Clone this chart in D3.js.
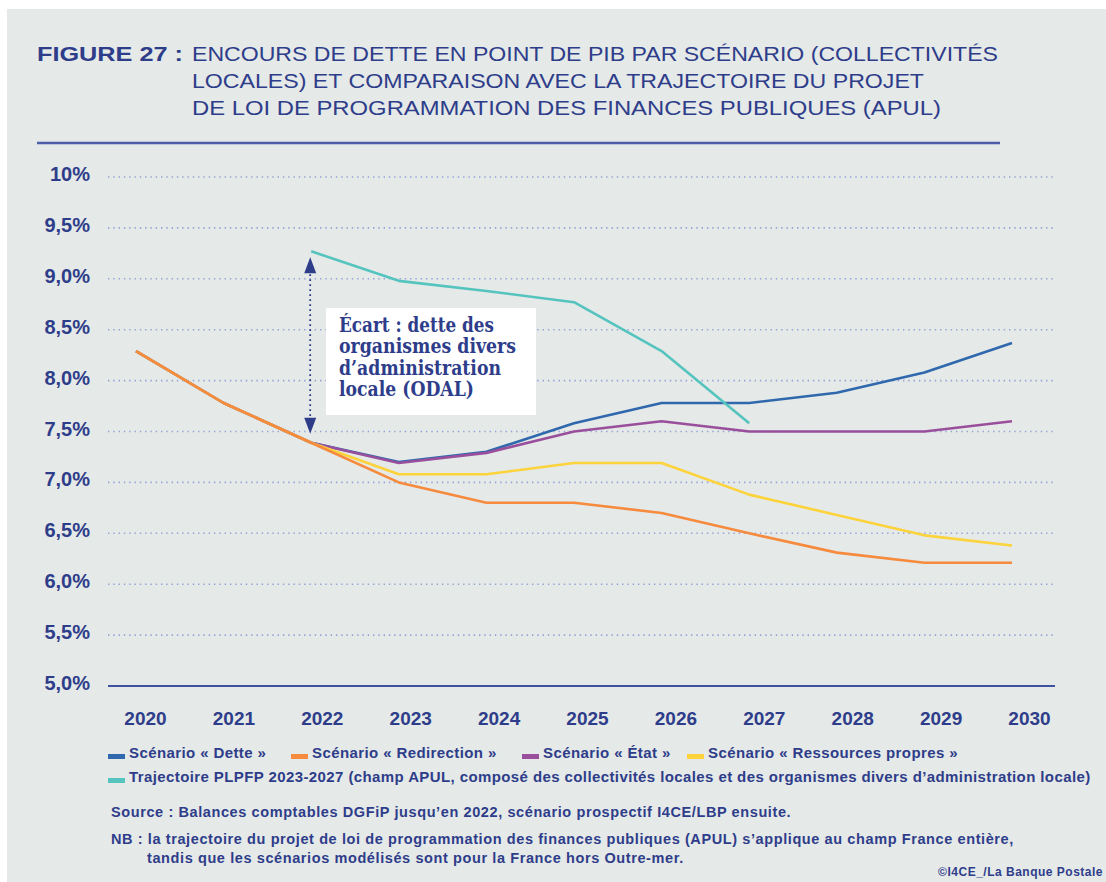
<!DOCTYPE html>
<html>
<head>
<meta charset="utf-8">
<script src="https://cdn.jsdelivr.net/npm/d3@7.9.0/dist/d3.min.js"></script>
<style>
  body { margin: 0; background: #fff; }
  svg { display: block; font-family: "Liberation Sans", Arial, sans-serif; }
</style>
</head>
<body>
<svg id="chart" width="1106" height="882"></svg>
<script>
// data (% of GDP)
const years = [2020, 2021, 2022, 2023, 2024, 2025, 2026, 2027, 2028, 2029, 2030];
const tickValues = [5, 5.5, 6, 6.5, 7, 7.5, 8, 8.5, 9, 9.5, 10];
const tickLabels = ['5,0%', '5,5%', '6,0%', '6,5%', '7,0%', '7,5%', '8,0%', '8,5%', '9,0%', '9,5%', '10%'];

const dette       = [8.29, 7.78, 7.39, 7.2, 7.3, 7.58, 7.78, 7.78, 7.88, 8.08, 8.37];
const redirection = [8.29, 7.78, 7.39, 7.0, 6.8, 6.8, 6.7, 6.5, 6.31, 6.21, 6.21];
const etat        = [8.29, 7.78, 7.39, 7.19, 7.29, 7.5, 7.6, 7.5, 7.5, 7.5, 7.6];
const ressources  = [8.29, 7.78, 7.39, 7.08, 7.08, 7.19, 7.19, 6.88, 6.68, 6.48, 6.38];
const plpfp       = [null, null, 9.27, 8.98, 8.88, 8.77, 8.29, 7.58, null, null, null];

const navy = '#2e3d8a';
const colors = {
  dette: '#2f68ad',
  redirection: '#f68a3d',
  etat: '#9a4f9c',
  ressources: '#fcd33b',
  plpfp: '#55c4bf'
};

const svg = d3.select('#chart');

// panel background
svg.append('rect').attr('x', 7).attr('y', 9).attr('width', 1099).attr('height', 873).attr('fill', '#e5e9e8');

// title
const title = svg.append('g').attr('fill', navy).attr('font-size', 21);
title.append('text').attr('x', 37).attr('y', 61).attr('font-weight', 'bold')
  .attr('textLength', 146).attr('lengthAdjust', 'spacingAndGlyphs').text('FIGURE 27 :');
const titleLines = [
  ['ENCOURS DE DETTE EN POINT DE PIB PAR SCÉNARIO (COLLECTIVITÉS', 806],
  ['LOCALES) ET COMPARAISON AVEC LA TRAJECTOIRE DU PROJET', 732],
  ['DE LOI DE PROGRAMMATION DES FINANCES PUBLIQUES (APUL)', 749]
];
titleLines.forEach(([t, w], i) => {
  title.append('text').attr('x', 192).attr('y', 61 + i * 27)
    .attr('textLength', w).attr('lengthAdjust', 'spacingAndGlyphs').text(t);
});
svg.append('line').attr('x1', 37).attr('x2', 1000).attr('y1', 143).attr('y2', 143)
  .attr('stroke', '#4b5ea6').attr('stroke-width', 2.5);

// scales
const x = d3.scalePoint().domain(years).range([136, 1012]);
const y = d3.scaleLinear().domain([5, 10]).range([686, 177]);

// gridlines (dotted)
svg.append('g').selectAll('line')
  .data(tickValues.filter(v => v > 5))
  .join('line')
  .attr('x1', 108).attr('x2', 1055)
  .attr('y1', d => y(d)).attr('y2', d => y(d))
  .attr('stroke', '#94a3d6').attr('stroke-width', 1.6)
  .attr('stroke-dasharray', '1.4 3.9');

// baseline
svg.append('line').attr('x1', 108).attr('x2', 1055).attr('y1', y(5)).attr('y2', y(5))
  .attr('stroke', '#3f52a0').attr('stroke-width', 2.2);

// y axis labels
svg.append('g').selectAll('text')
  .data(tickValues)
  .join('text')
  .attr('x', 90).attr('y', d => y(d) + 4)
  .attr('text-anchor', 'end').attr('font-size', 20).attr('font-weight', 'bold').attr('fill', navy)
  .text((d, i) => tickLabels[i]);

// x axis labels
const xAxis = svg.append('g').attr('transform', 'translate(0,725)')
  .call(d3.axisBottom(x).tickSize(0).tickPadding(0));
xAxis.select('.domain').remove();
xAxis.selectAll('text')
  .attr('dx', (d, i) => 9 + i * 0.8)
  .attr('dy', 0)
  .attr('font-size', 19).attr('font-weight', 'bold').attr('fill', navy)
  .attr('font-family', '"Liberation Sans", Arial, sans-serif');

// lines
const line = d3.line()
  .defined(d => d.v !== null)
  .x(d => x(d.year))
  .y(d => y(d.v));

const series = [
  ['dette', dette],
  ['etat', etat],
  ['ressources', ressources],
  ['redirection', redirection],
  ['plpfp', plpfp]
];
series.forEach(([key, vals]) => {
  svg.append('path')
    .datum(years.map((yr, i) => ({ year: yr, v: vals[i] })))
    .attr('d', line)
    .attr('fill', 'none')
    .attr('stroke', colors[key])
    .attr('stroke-width', 2.6)
    .attr('stroke-linejoin', 'round');
});

// gap arrow at 2022
const ax = x(2022) - 1;
const arrowTop = y(plpfp[2]) + 6;
const arrowBot = y(dette[2]) - 9;
svg.append('line').attr('x1', ax).attr('x2', ax).attr('y1', arrowTop + 12).attr('y2', arrowBot - 12)
  .attr('stroke', navy).attr('stroke-width', 1.8).attr('stroke-dasharray', '1.6 3.4');
svg.append('path').attr('fill', navy)
  .attr('d', `M${ax},${arrowTop} L${ax - 6},${arrowTop + 16} L${ax + 6},${arrowTop + 16} Z`);
svg.append('path').attr('fill', navy)
  .attr('d', `M${ax},${arrowBot} L${ax - 6},${arrowBot - 16} L${ax + 6},${arrowBot - 16} Z`);

// annotation box
svg.append('rect').attr('x', 326).attr('y', 308).attr('width', 210).attr('height', 107).attr('fill', '#fff');
const note = [
  ['Écart : dette des', 155],
  ['organismes divers', 177],
  ['d’administration', 162],
  ['locale (ODAL)', 135]
];
note.forEach(([t, w], i) => {
  svg.append('text').attr('x', 339).attr('y', 332 + i * 21.3)
    .attr('font-family', '"DejaVu Serif", serif').attr('font-weight', 'bold')
    .attr('font-size', 19.5).attr('fill', navy)
    .attr('textLength', w).attr('lengthAdjust', 'spacingAndGlyphs')
    .text(t);
});

// legend
const legend = [
  ['dette', 'Scénario « Dette »', 108, 758],
  ['redirection', 'Scénario « Redirection »', 291, 758],
  ['etat', 'Scénario « État »', 522, 758],
  ['ressources', 'Scénario « Ressources propres »', 687, 758],
  ['plpfp', 'Trajectoire PLPFP 2023-2027 (champ APUL, composé des collectivités locales et des organismes divers d’administration locale)', 108, 782]
];
legend.forEach(([key, label, lx, ly]) => {
  svg.append('rect').attr('x', lx).attr('y', ly - 4).attr('width', 17).attr('height', 5).attr('fill', colors[key]);
  svg.append('text').attr('x', lx + 21).attr('y', ly)
    .attr('font-size', 15).attr('letter-spacing', 0.4)
    .attr('font-weight', 'bold').attr('fill', navy).text(label);
});

// source and notes
const foot = svg.append('g').attr('font-size', 14.5).attr('letter-spacing', 0.6)
  .attr('font-weight', 'bold').attr('fill', navy);
foot.append('text').attr('x', 111).attr('y', 817)
  .text('Source : Balances comptables DGFiP jusqu’en 2022, scénario prospectif I4CE/LBP ensuite.');
foot.append('text').attr('x', 111).attr('y', 844)
  .text('NB : la trajectoire du projet de loi de programmation des finances publiques (APUL) s’applique au champ France entière,');
foot.append('text').attr('x', 147).attr('y', 863)
  .text('tandis que les scénarios modélisés sont pour la France hors Outre-mer.');
svg.append('text').attr('x', 1103).attr('y', 876).attr('text-anchor', 'end')
  .attr('font-size', 12).attr('letter-spacing', 0.5).attr('font-weight', 'bold').attr('fill', navy)
  .text('©I4CE_/La Banque Postale');
</script>
</body>
</html>
